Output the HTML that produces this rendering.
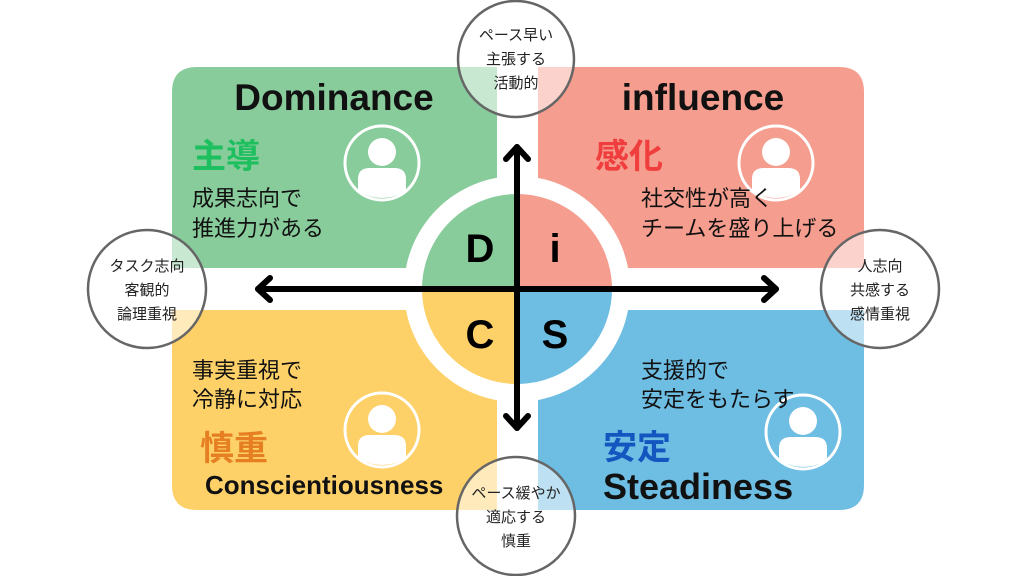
<!DOCTYPE html>
<html><head><meta charset="utf-8"><style>
body{margin:0;background:#fff}
svg{display:block}
text{font-family:"Liberation Sans","Noto Sans CJK JP",sans-serif}
.j{font-family:"Noto Sans CJK JP",sans-serif}
</style></head><body>
<svg width="1024" height="576" viewBox="0 0 1024 576" xmlns="http://www.w3.org/2000/svg">
<defs>
<mask id="m">
<rect width="1024" height="576" fill="#fff"/>
<circle cx="517" cy="289" r="113" fill="#000"/>
</mask>
<g id="icon">
<circle r="37" fill="none" stroke="#fff" stroke-width="3"/>
<circle cx="0" cy="-11" r="14" fill="#fff"/>
<path d="M-24,28 L-24,16 Q-24,5 -12,5 L12,5 Q24,5 24,16 L24,28 Q12,35 0,35 Q-12,35 -24,28Z" fill="#fff"/>
</g>
</defs>
<g mask="url(#m)">
<path d="M197,67 H497 V268 H172 V92 Q172,67 197,67Z" fill="#88cc9b"/>
<path d="M538,67 H839 Q864,67 864,92 V268 H538Z" fill="#f59d8e"/>
<path d="M172,310 H497 V510 H197 Q172,510 172,485Z" fill="#fdd068"/>
<path d="M538,310 H864 V485 Q864,510 839,510 H538Z" fill="#6ebde3"/>
</g>
<path d="M517,289 V194 A95,95 0 0 0 422,289Z" fill="#88cc9b"/>
<path d="M517,289 V194 A95,95 0 0 1 612,289Z" fill="#f59d8e"/>
<path d="M517,289 H422 A95,95 0 0 0 517,384Z" fill="#fdd068"/>
<path d="M517,289 H612 A95,95 0 0 1 517,384Z" fill="#6ebde3"/>
<g font-weight="bold" font-size="40" fill="#000" text-anchor="middle">
<text x="480" y="262">D</text><text x="555" y="262">i</text>
<text x="480" y="348">C</text><text x="555" y="348">S</text>
</g>
<g stroke="#000" stroke-width="6" fill="none" stroke-linecap="round" stroke-linejoin="round">
<line x1="258" y1="289" x2="776" y2="289"/>
<line x1="517" y1="147" x2="517" y2="428"/>
<polyline points="270,278 258,289 270,300"/>
<polyline points="764,278 776,289 764,300"/>
<polyline points="506,159 517,147 528,159"/>
<polyline points="506,416 517,428 528,416"/>
</g>
<use href="#icon" x="382" y="163"/>
<use href="#icon" x="776" y="163"/>
<use href="#icon" x="382" y="430"/>
<use href="#icon" x="803" y="432"/>
<g font-weight="bold" fill="#111">
<text x="334" y="110" font-size="37" text-anchor="middle">Dominance</text>
<text x="703" y="110" font-size="37" text-anchor="middle">influence</text>
<text x="205" y="494" font-size="26">Conscientiousness</text>
<text x="603" y="499" font-size="36">Steadiness</text>
</g>
<g class="j" font-weight="bold" font-size="34">
<text x="192" y="168" fill="#1dbf5e">主導</text>
<text x="595" y="168" fill="#f03e3e">感化</text>
<text x="200" y="460" fill="#e67e22">慎重</text>
<text x="603" y="459" fill="#1456c0">安定</text>
</g>
<g class="j" font-size="22" fill="#111">
<text x="192" y="206">成果志向で</text><text x="192" y="236">推進力がある</text>
<text x="641" y="206">社交性が高く</text><text x="641" y="236">チームを盛り上げる</text>
<text x="192" y="378">事実重視で</text><text x="192" y="407">冷静に対応</text>
<text x="641" y="378">支援的で</text><text x="641" y="407">安定をもたらす</text>
</g>
<g fill="rgba(255,255,255,0.55)" stroke="#666" stroke-width="2.5">
<circle cx="516" cy="59" r="58"/>
<circle cx="147" cy="289" r="59"/>
<circle cx="880" cy="289" r="59"/>
<circle cx="516" cy="516" r="59"/>
</g>
<g class="j" font-size="15" fill="#222" text-anchor="middle">
<text x="516" y="40">ペース早い</text><text x="516" y="64">主張する</text><text x="516" y="88">活動的</text>
<text x="147" y="271">タスク志向</text><text x="147" y="295">客観的</text><text x="147" y="319">論理重視</text>
<text x="880" y="271">人志向</text><text x="880" y="295">共感する</text><text x="880" y="319">感情重視</text>
<text x="516" y="498">ペース緩やか</text><text x="516" y="522">適応する</text><text x="516" y="546">慎重</text>
</g>
</svg>
</body></html>
